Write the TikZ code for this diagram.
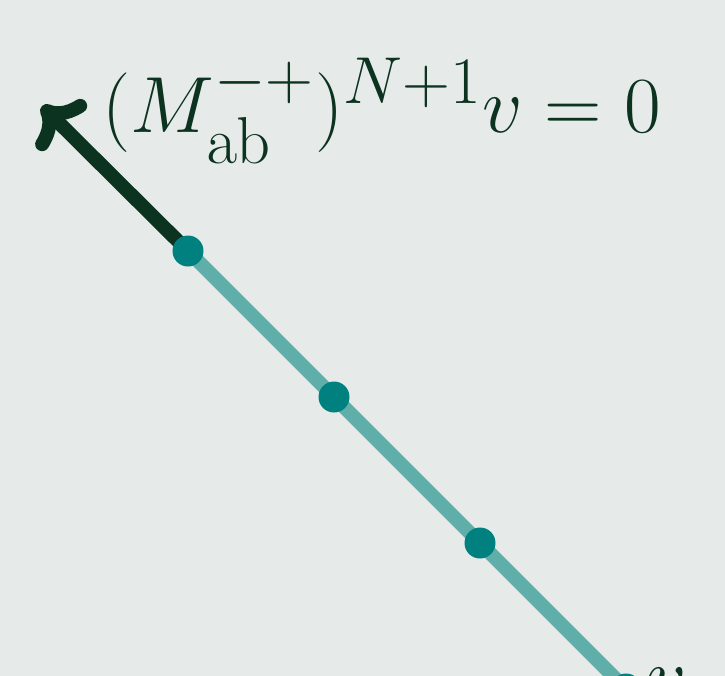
\documentclass[tikz,border=0pt]{standalone}
\usepackage{amsmath, amssymb}
\usepackage{graphicx}
\usepackage{tikz}
\usetikzlibrary{
  arrows.meta,%
  calc,%
  positioning
}
\definecolor{bgcol}{HTML}{E6EBE9}
\definecolor{inkcol}{HTML}{0B3320}
\definecolor{dotcol}{HTML}{00807E}
\definecolor{linecol}{HTML}{5FAEAA}
\tikzset{>={To[round, length=17pt, width=34pt]}}
\tikzset{font=\Huge}
\newcommand{\bigmath}[1]{\scalebox{1.6}{$#1$}}
\tikzset{weightdot/.style={circle, fill=dotcol, inner sep=0pt, minimum size=15.5pt},
  chain line/.style={linecol, line width=7pt},
  raise arrow/.style={->, inkcol, line width=7pt, line cap=round}}

\begin{document}
\begin{tikzpicture}[x=0.5pt, y=-0.5pt]
          \fill[bgcol] (0,0) rectangle (725,676);
          \useasboundingbox (0,0) rectangle (725,676);
          \clip (0,0) rectangle (725,676);
          % the string of weights
          \foreach \i in {1,...,4}
            \coordinate (p\i) at ({188+146*(\i-1)}, {251+146*(\i-1)});
          \coordinate (tip) at (42,106);
          \draw[chain line] (p1) -- (p4);
          \draw[raise arrow] (p1) -- (tip);
          \foreach \i in {1,...,4}
            \node[weightdot] (d\i) at (p\i) {};
          \node[inkcol, anchor=base west, inner sep=0pt] (rel) at (102,132)
            {\bigmath{(M_{\mathrm{ab}}^{-+})^{N+1}v = 0}};
          \node[inkcol, anchor=base west, inner sep=0pt] (low) at (646,702) {\bigmath{v}};
        \end{tikzpicture}
\end{document}
